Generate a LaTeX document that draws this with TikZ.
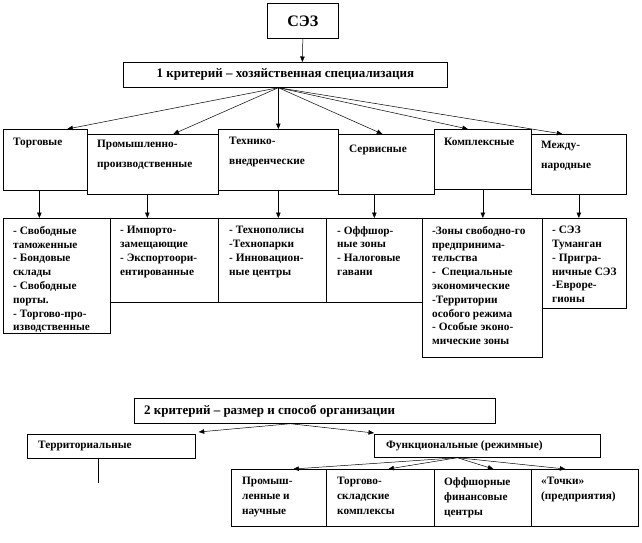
\documentclass[tikz,border=0pt]{standalone}
\usepackage{fontspec}
\setmainfont{Liberation Serif}
\usetikzlibrary{positioning,arrows.meta}

\begin{document}
\begin{tikzpicture}[x=1pt, y=-1pt,
    box/.style={draw, line width=0.7pt, fill=white, anchor=north west, inner sep=0pt},
    arrow/.style={-{Triangle[length=5.5pt,width=4.5pt]}, line width=0.5pt},
    plain/.style={line width=0.5pt},
    headtext/.style={font=\fontsize{13}{15}\selectfont\bfseries},
    kindtext/.style={font=\fontsize{11.3}{20}\selectfont\bfseries, align=left, inner sep=0pt},
    listtext/.style={font=\fontsize{11.3}{13.8}\selectfont\bfseries, align=left, inner sep=0pt},
    formtext/.style={font=\fontsize{11.3}{15}\selectfont\bfseries, align=left, inner sep=0pt}
  ]
  \useasboundingbox (0,0) rectangle (642,543);

  % ===== TOP =====
  \node[box, minimum width=71pt, minimum height=35pt, font=\fontsize{16}{18}\selectfont\bfseries] (sez) at (267,3) {СЭЗ};
  \node[box, minimum width=324pt, minimum height=25pt, headtext] (crit1) at (123,62) {1 критерий – хозяйственная специализация};

  % ===== LEVEL 1 (kinds) =====
  \node[box, minimum width=84pt,  minimum height=61pt] (trade) at (3,129) {};
  \node[box, minimum width=131pt, minimum height=60pt] (prom)  at (87,134) {};
  \node[box, minimum width=120pt, minimum height=61pt] (tech)  at (218,129) {};
  \node[box, minimum width=96pt,  minimum height=60pt] (serv)  at (338,134) {};
  \node[box, minimum width=97pt,  minimum height=60pt] (kompl) at (434,129) {};
  \node[box, minimum width=95pt,  minimum height=60pt] (mezh)  at (531,134) {};

  \node[kindtext, below right=9pt and 10pt of trade.north west] (tradeT) {Торговые};
  \node[kindtext, below right=6pt and 10pt of prom.north west]  (promT)  {Промышленно-\\производственные};
  \node[kindtext, below right=8pt and 11pt of tech.north west]  (techT)  {Технико-\\внедренческие};
  \node[kindtext, below right=11pt and 11pt of serv.north west] (servT)  {Сервисные};
  \node[kindtext, below right=9pt and 10pt of kompl.north west] (komplT) {Комплексные};
  \node[kindtext, below right=7pt and 10pt of mezh.north west]  (mezhT)  {Между-\\народные};

  % ===== LEVEL 2 (lists) =====
  \node[box, minimum width=107pt, minimum height=115pt] (l1) at (3,218) {};
  \node[box, minimum width=108pt, minimum height=84pt]  (l2) at (110,218) {};
  \node[box, minimum width=108pt, minimum height=84pt]  (l3) at (218,218) {};
  \node[box, minimum width=96pt,  minimum height=84pt]  (l4) at (326,218) {};
  \node[box, minimum width=120pt, minimum height=139pt] (l5) at (422,218) {};
  \node[box, minimum width=84pt,  minimum height=90pt]  (l6) at (542,218) {};

  \begin{scope}
    \clip (l1.north west) rectangle (l1.south east);
    \node[listtext, below right=8pt and 10pt of l1.north west] (l1T)
      {- Свободные\\таможенные\\- Бондовые\\склады\\- Свободные\\порты.\\- Торгово-про-\\изводственные};
  \end{scope}
  \node[listtext, below right=8pt and 10pt of l2.north west] (l2T)
    {- Импорто-\\замещающие\\- Экспортоори-\\ентированные};
  \node[listtext, below right=8pt and 11pt of l3.north west] (l3T)
    {- Технополисы\\-Технопарки\\- Инновацион-\\ные центры};
  \node[listtext, below right=8pt and 11pt of l4.north west] (l4T)
    {- Оффшор-\\ные зоны\\- Налоговые\\гавани};
  \node[listtext, below right=8pt and 10pt of l5.north west] (l5T)
    {-Зоны свободно-го\\предпринима-\\тельства\\-\ \ Специальные\\экономические\\-Территории\\особого режима\\- Особые эконо-\\мические зоны};
  \node[listtext, below right=8pt and 10pt of l6.north west] (l6T)
    {- СЭЗ\\Туманган\\- Пригра-\\ничные СЭЗ\\-Евроре-\\гионы};

  % ===== ARROWS (top part) =====
  \draw[arrow] (sez.south) -- ([xshift=17pt]crit1.north);
  \coordinate (hub1) at ([xshift=-7pt]crit1.south);
  \draw[arrow] (hub1) -- ([xshift=22pt]trade.north);
  \draw[arrow] (hub1) -- ([xshift=20.5pt]prom.north);
  \draw[arrow] (hub1) -- (tech.north);
  \draw[arrow] (hub1) -- ([xshift=-4pt]serv.north);
  \draw[arrow] (hub1) -- ([xshift=-15pt]kompl.north);
  \draw[arrow] (hub1) -- ([xshift=-16.5pt]mezh.north);

  \draw[arrow] ([xshift=-6pt]trade.south)  -- ([xshift=-6pt]trade.south |- l1.north);
  \draw[arrow] ([xshift=-5.5pt]prom.south) -- ([xshift=-5.5pt]prom.south |- l2.north);
  \draw[arrow] (tech.south)                -- (tech.south |- l3.north);
  \draw[arrow] ([xshift=-12pt]serv.south)  -- ([xshift=-12pt]serv.south |- l4.north);
  \draw[arrow] (kompl.south)               -- (kompl.south |- l5.north);
  \draw[arrow] (mezh.south)                -- (mezh.south |- l6.north);

  % ===== BOTTOM (2nd criterion) =====
  \node[box, minimum width=361pt, minimum height=25pt] (crit2) at (134,398) {};
  \node[headtext, inner sep=0pt, anchor=west, right=10pt of crit2.west] (crit2T) {2 критерий – размер и способ организации};

  \node[box, minimum width=168pt, minimum height=24pt] (terr) at (27,434) {};
  \node[box, minimum width=226pt, minimum height=23pt] (funk) at (374,434) {};
  \node[kindtext, anchor=west, right=11pt of terr.west] (terrT) {Территориальные};
  \node[kindtext, anchor=west, right=12pt of funk.west] (funkT) {Функциональные (режимные)};

  \node[box, minimum width=95pt,  minimum height=57pt] (b1) at (231,469) {};
  \node[box, minimum width=108pt, minimum height=57pt] (b2) at (326,469) {};
  \node[box, minimum width=97pt,  minimum height=57pt] (b3) at (434,469) {};
  \node[box, minimum width=107pt, minimum height=57pt] (b4) at (531,469) {};

  \node[formtext, below right=8pt and 11pt of b1.north west] (b1T) {Промыш-\\ленные и\\научные};
  \node[formtext, below right=8pt and 11pt of b2.north west] (b2T) {Торгово-\\складские\\комплексы};
  \node[formtext, below right=8pt and 10pt of b3.north west] (b3T) {Оффшорные\\финансовые\\центры};
  \node[formtext, below right=8pt and 10pt of b4.north west] (b4T) {«Точки»\\(предприятия)};

  % ===== ARROWS (bottom part) =====
  \coordinate (hub2) at ([xshift=-24.5pt]crit2.south);
  \draw[arrow] (hub2) -- ([xshift=3pt,yshift=2pt]terr.north east);
  \draw[arrow] (hub2) -- ([yshift=1pt]funk.north west);

  \coordinate (terrEnd) at (98,483);
  \draw[plain] (terr.south -| terrEnd) -- (terrEnd);

  \coordinate (hub3) at ([xshift=-30pt]funk.south);
  \draw[arrow] (hub3) -- ([xshift=14.5pt]b1.north);
  \draw[arrow] (hub3) -- ([xshift=8pt]b2.north);
  \draw[arrow] (hub3) -- ([xshift=10.5pt]b3.north);
  \draw[arrow] (hub3) -- ([xshift=-19.5pt]b4.north);
\end{tikzpicture}
\end{document}
